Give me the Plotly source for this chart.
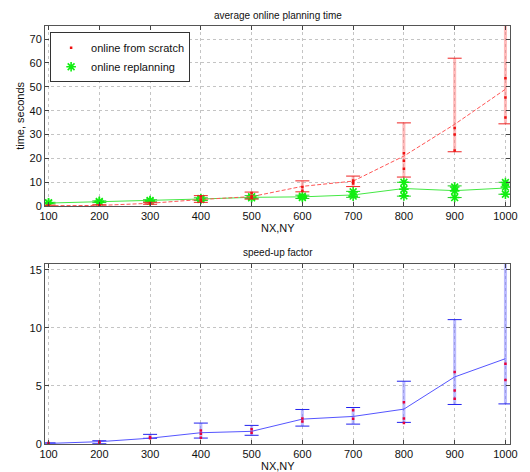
import plotly.graph_objects as go

x = [100, 200, 300, 400, 500, 600, 700, 800, 900, 1000]

# online from scratch
scratch_mean = [0.2, 0.3, 1.2, 2.8, 4.0, 8.3, 10.5, 21.0, 34.3, 49.0]
scratch_lo = [0.0, 0.0, 0.8, 1.6, 3.0, 6.0, 8.2, 12.2, 22.8, 34.5]
scratch_hi = [0.4, 0.6, 1.6, 4.4, 5.9, 10.6, 12.6, 34.9, 62.0, 76.5]
scratch_samples = [[0.1, 0.3], [0.2, 0.4], [1.0, 1.3], [2.0, 2.8, 4.0], [3.5, 4.2, 5.5],
                   [6.5, 8.0], [9.5, 10.1, 10.8], [15.7, 19.0, 22.2], [23.3, 30.0, 32.8],
                   [37.2, 45.5, 53.6]]

# online replanning
replan_mean = [1.3, 1.8, 2.2, 3.0, 3.7, 3.9, 4.7, 7.4, 6.5, 7.6]
replan_lo = [1.0, 1.5, 1.8, 2.4, 3.1, 3.2, 3.7, 4.2, 3.6, 5.0]
replan_hi = [1.6, 2.2, 2.7, 3.5, 4.4, 4.6, 6.2, 10.0, 8.5, 10.0]
replan_samples = [[1.2, 1.4], [1.7, 2.0], [2.1, 2.4], [2.8, 3.2], [3.5, 4.0],
                  [3.6, 4.2], [4.2, 6.0], [4.3, 7.1, 10.0], [3.6, 6.4, 8.0], [5.0, 8.0, 9.9]]

# speed-up factor
speedup_mean = [0.05, 0.2, 0.5, 0.97, 1.09, 2.14, 2.37, 3.0, 5.77, 7.34]
speedup_lo = [0.0, 0.02, 0.49, 0.51, 0.75, 1.54, 1.71, 1.86, 3.4, 3.45]
speedup_hi = [0.1, 0.28, 0.83, 1.8, 1.6, 2.97, 3.14, 5.4, 10.7, 16.0]
speedup_samples = [[0.02, 0.08], [0.1, 0.2], [0.5, 0.6], [0.54, 0.88, 1.17], [0.97, 1.26],
                   [1.94, 2.2], [2.17, 2.9], [1.8, 2.2, 3.6], [3.9, 4.6, 6.2], [5.5, 6.9]]

x_ticks = [100, 200, 300, 400, 500, 600, 700, 800, 900, 1000]
y_ticks_top = [0, 10, 20, 30, 40, 50, 60, 70]
y_ticks_bottom = [0, 5, 10, 15]

FONT = "Liberation Sans, Arial, sans-serif"
STAR = dict(symbol="asterisk-open", size=8, color="#11ee11",
            line=dict(color="#11ee11", width=1.6))


def flat(samples):
    xs, ys = [], []
    for xi, s in zip(x, samples):
        for v in s:
            xs.append(xi)
            ys.append(v)
    return xs, ys


fig = go.Figure()


def add_series(mean, lo, hi, samples, line_color, pale, cap_color, line_dash, xa, ya,
               pt_marker, name=None, legend=False):
    # error bar verticals (pale, thick)
    fig.add_trace(go.Scatter(
        x=x, y=mean, mode="markers", marker=dict(size=0.1, color="rgba(0,0,0,0)"),
        error_y=dict(type="data", symmetric=False,
                     array=[h - m for h, m in zip(hi, mean)],
                     arrayminus=[m - l for m, l in zip(mean, lo)],
                     color=pale, thickness=3, width=0),
        xaxis=xa, yaxis=ya, showlegend=False, hoverinfo="skip"))
    # caps
    fig.add_trace(go.Scatter(
        x=x + x, y=lo + hi, mode="markers",
        marker=dict(symbol="line-ew", size=10, line=dict(color=cap_color, width=1)),
        xaxis=xa, yaxis=ya, showlegend=False, hoverinfo="skip"))
    # mean line
    fig.add_trace(go.Scatter(
        x=x, y=mean, mode="lines", line=dict(color=line_color, width=1, dash=line_dash),
        xaxis=xa, yaxis=ya, showlegend=False))
    # samples
    sx, sy = flat(samples)
    fig.add_trace(go.Scatter(
        x=sx, y=sy, mode="markers", marker=pt_marker, name=name,
        xaxis=xa, yaxis=ya, showlegend=legend))


# top plot
add_series(replan_mean, replan_lo, replan_hi, replan_samples,
           "#44e844", "rgba(90,240,90,0.45)", "#22cc22", "solid", "x", "y",
           STAR, name="online replanning", legend=False)
add_series(scratch_mean, scratch_lo, scratch_hi, scratch_samples,
           "#ff5555", "rgba(255,120,120,0.5)", "#ee2222", "4px,2px", "x", "y",
           dict(symbol="square", size=2.5, color="#ee1111"),
           name="online from scratch", legend=True)
# legend entry for replanning (ordered after scratch)
fig.add_trace(go.Scatter(
    x=[None], y=[None], mode="markers", name="online replanning",
    marker=STAR, xaxis="x", yaxis="y", showlegend=True))

# bottom plot
add_series(speedup_mean, speedup_lo, speedup_hi, speedup_samples,
           "#5555ff", "rgba(120,120,255,0.5)", "#2222ee", "solid", "x2", "y2",
           dict(symbol="square", size=2.5, color="#e8003c"))

axis_common = dict(
    showline=True, linecolor="#555555", linewidth=1, mirror="ticks",
    ticks="inside", ticklen=4, tickcolor="#444444",
    showgrid=True, gridcolor="#c4c4c4", griddash="dot", gridwidth=1,
    zeroline=False, tickfont=dict(family=FONT, size=11, color="#111111"),
)

fig.update_layout(
    width=530, height=472,
    margin=dict(l=45, r=14, t=26, b=26),
    paper_bgcolor="white", plot_bgcolor="white",
    font=dict(family=FONT, size=11, color="#111111"),
    xaxis=dict(axis_common, domain=[0, 1], range=[93, 1009], tickvals=x_ticks, anchor="y"),
    yaxis=dict(axis_common, domain=[0.569, 1], range=[0, 75.5], tickvals=y_ticks_top, anchor="x"),
    xaxis2=dict(axis_common, domain=[0, 1], range=[93, 1009], tickvals=x_ticks, anchor="y2"),
    yaxis2=dict(axis_common, domain=[0, 0.431], range=[0, 15.5], tickvals=y_ticks_bottom, anchor="x2"),
    legend=dict(x=0.011, y=0.985, xanchor="left", yanchor="top",
                bgcolor="white", bordercolor="#333333", borderwidth=1,
                font=dict(family=FONT, size=11, color="#111111"),
                itemwidth=30, tracegroupgap=0),
    showlegend=True,
    annotations=[
        dict(text="average online planning time", xref="paper", yref="paper",
             x=0.5, y=1.026, showarrow=False, font=dict(size=10), yanchor="middle"),
        dict(text="speed-up factor", xref="paper", yref="paper",
             x=0.5, y=0.457, showarrow=False, font=dict(size=10), yanchor="middle"),
        dict(text="NX,NY", xref="paper", yref="paper",
             x=0.5, y=0.517, showarrow=False, font=dict(size=11), yanchor="middle"),
        dict(text="NX,NY", xref="paper", yref="paper",
             x=0.5, y=-0.052, showarrow=False, font=dict(size=11), yanchor="middle"),
        dict(text="time, seconds", xref="paper", yref="paper",
             x=-0.053, y=0.786, showarrow=False, font=dict(size=11), textangle=-90,
             xanchor="center", yanchor="middle"),
    ],
)

fig.write_html("out.html", config={"displayModeBar": False},
               post_script="document.body.style.margin='0px';document.body.style.overflow='hidden';")
